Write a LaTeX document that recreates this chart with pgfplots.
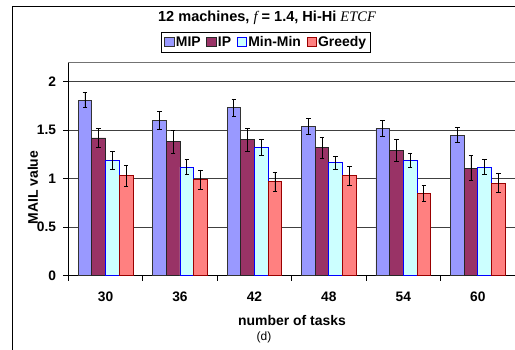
\documentclass[border=0pt]{standalone}
\usepackage{pgfplots}
\pgfplotsset{compat=1.18}
\usepackage{pgfplotstable}
\usepackage{fontspec}
\setmainfont{Liberation Sans}
\newfontfamily\tnr{Liberation Serif}

\definecolor{mipc}{HTML}{9999FF}
\definecolor{ipc}{HTML}{993366}
\definecolor{mmc}{HTML}{CCFFFF}
\definecolor{grc}{HTML}{FF8080}
\definecolor{grb}{HTML}{990000}

\pgfplotstableread{
x y e
0 1.81 0.080
1 1.60 0.090
2 1.73 0.085
3 1.54 0.080
4 1.52 0.080
5 1.45 0.080
}\mip
\pgfplotstableread{
x y e
0 1.42 0.100
1 1.38 0.115
2 1.40 0.120
3 1.32 0.110
4 1.29 0.115
5 1.11 0.130
}\ip
\pgfplotstableread{
x y e
0 1.19 0.090
1 1.12 0.075
2 1.32 0.080
3 1.165 0.065
4 1.19 0.075
5 1.12 0.080
}\minmin
\pgfplotstableread{
x y e
0 1.03 0.110
1 0.99 0.100
2 0.97 0.100
3 1.03 0.095
4 0.85 0.080
5 0.955 0.095
}\greedy

\pgfplotsset{myerr/.style={
  error bars/y dir=both, error bars/y explicit,
  error bars/error bar style={black, line width=0.8bp},
  error bars/error mark options={black, line width=0.8bp, mark size=2.3bp, rotate=90}}}

\begin{document}
\begin{tikzpicture}
\begin{axis}[
  name=ax,
  at={(0,0)}, anchor=south west,
  scale only axis,
  width=446.7bp, height=213.4bp,
  xmin=-0.5, xmax=5.5, ymin=0, ymax=2.2,
  axis lines*=left,
  axis line style={-, black, line width=0.8bp},
  ybar, bar width=0.184,
  xtick={0,...,5},
  xticklabels={30,36,42,48,54,60},
  minor xtick={-0.5,0.5,...,5.5},
  ytick={0,0.5,1,1.5,2},
  tick align=outside,
  major tick length=5bp,
  minor tick length=5bp,
  major x tick style={draw=none},
  every tick/.style={black, line width=0.8bp},
  minor x tick style={black, line width=0.8bp},
  /pgf/number format/assume math mode=true,
  tick label style={font=\fontsize{13.8}{14}\selectfont\bfseries, inner sep=0pt},
  x tick label style={anchor=north, yshift=-11bp},
  y tick label style={anchor=east, xshift=-7bp},
  ymajorgrids,
  major grid style={black!75, line width=0.6bp},
  xlabel={number of tasks},
  ylabel={MAIL value},
  label style={font=\fontsize{14}{16}\selectfont\bfseries},
  xlabel style={at={(axis description cs:0.5008,-0.211)}, anchor=center},
  ylabel style={at={(axis description cs:-0.079,0.413)}, anchor=center},
  every axis title shift=0pt,
  title={12 machines, {\tnr\itshape\mdseries f} = 1.4, Hi-Hi {\tnr\itshape\mdseries ETCF}},
  title style={at={(axis description cs:0.445,1.21)}, anchor=center, font=\fontsize{14.6}{16}\selectfont\bfseries},
  legend columns=4,
  legend style={at={(axis description cs:0.4426,1.094)}, anchor=center,
    draw=black, line width=0.8bp, inner xsep=2.5bp, inner ysep=2.5bp,
    font=\fontsize{14}{16}\selectfont\bfseries,
    nodes={inner sep=1.4bp, anchor=west},
    /tikz/every even column/.append style={column sep=4.3bp}},
  legend image code/.code={\draw[#1, line width=0.8bp] (0bp,-4.6bp) rectangle (9.3bp,4.6bp);},
]
\addplot[fill=mipc, draw=black!80, line width=0.8bp, bar shift=-0.276, myerr] table[x=x, y=y, y error=e]{\mip};
\addplot[fill=ipc, draw=black!85, line width=0.8bp, bar shift=-0.092, myerr] table[x=x, y=y, y error=e]{\ip};
\addplot[fill=mmc, draw=blue, line width=0.8bp, bar shift=0.092, myerr] table[x=x, y=y, y error=e]{\minmin};
\addplot[fill=grc, draw=grb, line width=0.8bp, bar shift=0.276, myerr] table[x=x, y=y, y error=e]{\greedy};
\legend{MIP, IP, Min-Min, Greedy}
\end{axis}
\draw[black!55, line width=0.8bp] (ax.north west) -- (ax.north east);
\draw[black, line width=0.9bp] ([shift={(-55.8bp,-80bp)}]ax.south west) -- ([shift={(-55.8bp,269.7bp)}]ax.south west) -- ([shift={(470bp,269.7bp)}]ax.south west);
\node[font=\fontsize{12}{14}\selectfont] at ([shift={(195.7bp,-61.3bp)}]ax.south west) {(d)};
\pgfresetboundingbox
\useasboundingbox ([shift={(-68.3bp,-74.3bp)}]ax.south west) rectangle ([shift={(446.7bp,275.7bp)}]ax.south west);
\end{tikzpicture}
\end{document}
